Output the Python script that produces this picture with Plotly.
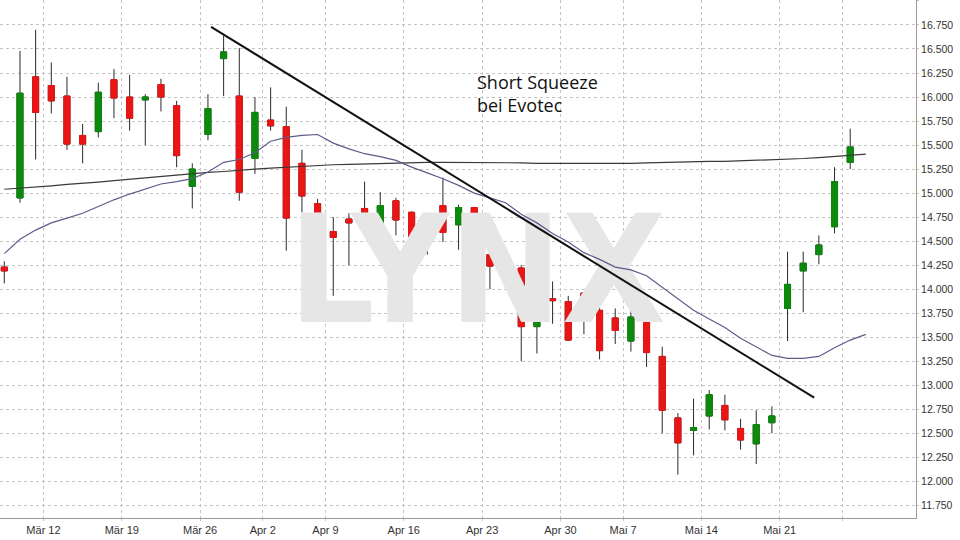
import plotly.graph_objects as go

# daily candles (trading-day index 0..54)
opens = [14.23, 14.95, 16.21, 16.12, 16.01, 15.60, 15.64, 16.18, 16.00, 15.97,
         16.13, 15.91, 15.07, 15.61, 16.40, 16.01, 15.36, 15.76, 15.69, 15.31,
         14.89, 14.60, 14.73, 14.84, 14.59, 14.92, 14.80, 14.52, 14.87, 14.67,
         14.85, 14.36, 14.235, 14.22, 13.61, 13.90, 13.87, 13.96, 13.78, 13.70,
         13.46, 13.83, 13.30, 12.66, 12.53, 12.68, 12.79, 12.55, 12.39, 12.61,
         13.80, 14.19, 14.36, 14.65, 15.32]
highs = [14.29, 16.48, 16.70, 16.36, 16.21, 15.72, 16.15, 16.29, 16.23, 16.03,
         16.19, 15.96, 15.31, 16.03, 16.64, 16.51, 16.00, 16.10, 15.90, 15.45,
         14.94, 14.75, 14.79, 15.12, 15.01, 14.95, 14.81, 14.69, 15.16, 14.88,
         14.85, 14.49, 14.40, 14.25, 13.85, 14.08, 13.93, 13.96, 13.82, 13.80,
         13.78, 13.94, 13.40, 12.71, 12.86, 12.95, 12.90, 12.65, 12.74, 12.78,
         14.39, 14.39, 14.56, 15.27, 15.67]
lows = [14.06, 14.90, 15.35, 15.83, 15.45, 15.31, 15.58, 15.78, 15.65, 15.50,
        15.85, 15.27, 14.84, 15.55, 16.01, 14.92, 15.20, 15.65, 14.40, 14.80,
        14.25, 13.93, 14.25, 14.57, 14.54, 14.56, 14.45, 14.36, 14.49, 14.41,
        14.38, 14.00, 14.03, 13.25, 13.33, 13.64, 13.46, 13.53, 13.27, 13.43,
        13.35, 13.19, 12.50, 12.07, 12.27, 12.54, 12.53, 12.33, 12.18, 12.50,
        13.46, 13.76, 14.26, 14.58, 15.25]
closes = [14.19, 16.04, 15.84, 15.96, 15.51, 15.51, 16.05, 15.99, 15.78, 16.00,
          16.00, 15.39, 15.25, 15.88, 16.47, 15.01, 15.84, 15.70, 14.74, 14.97,
          14.34, 14.54, 14.69, 14.68, 14.87, 14.72, 14.51, 14.58, 14.59, 14.85,
          14.49, 14.24, 14.255, 13.61, 13.84, 13.88, 13.47, 13.76, 13.36, 13.57,
          13.71, 13.34, 12.74, 12.40, 12.56, 12.90, 12.64, 12.43, 12.59, 12.68,
          14.05, 14.27, 14.46, 15.12, 15.48]

# moving averages (index 0..55)
ma_short = [14.37, 14.52, 14.615, 14.69, 14.74, 14.79, 14.86, 14.93, 14.99, 15.04,
            15.095, 15.12, 15.15, 15.22, 15.32, 15.35, 15.42, 15.54, 15.58, 15.60,
            15.61, 15.52, 15.46, 15.41, 15.38, 15.34, 15.27, 15.21, 15.15, 15.08,
            15.00, 14.95, 14.90, 14.78, 14.69, 14.58, 14.49, 14.38, 14.31, 14.23,
            14.20, 14.14, 14.02, 13.90, 13.78, 13.69, 13.60, 13.49, 13.40, 13.31,
            13.28, 13.28, 13.30, 13.39, 13.47, 13.53]
ma_long = [15.04, 15.05, 15.06, 15.075, 15.09, 15.10, 15.115, 15.13, 15.145, 15.16,
           15.175, 15.19, 15.20, 15.215, 15.225, 15.24, 15.25, 15.26, 15.27, 15.28,
           15.29, 15.295, 15.30, 15.305, 15.31, 15.31, 15.315, 15.32, 15.32, 15.32,
           15.32, 15.32, 15.32, 15.315, 15.31, 15.31, 15.305, 15.305, 15.305, 15.31,
           15.31, 15.315, 15.32, 15.32, 15.325, 15.33, 15.33, 15.335, 15.34, 15.345,
           15.35, 15.36, 15.37, 15.38, 15.395, 15.405]

# hand drawn trend line (start / end)
trend_x = [13.2, 51.7]
trend_y = [16.73, 12.87]

tick_pos = [2.5, 7.5, 12.5, 16.5, 20.5, 25.5, 30.5, 35.5, 39.5, 44.5, 49.5, 53.5]
tick_text = ["Mär 12", "Mär 19", "Mär 26", "Apr 2", "Apr 9", "Apr 16", "Apr 23",
             "Apr 30", "Mai 7", "Mai 14", "Mai 21", ""]

days = list(range(len(opens)))
ma_days = list(range(len(ma_short)))
body_hi = [max(o, c) for o, c in zip(opens, closes)]
body_lo = [min(o, c) for o, c in zip(opens, closes)]

GREEN = "#0b8a0b"
RED = "#ea1515"
WICK = "#2a2a2a"

fig = go.Figure()

# watermark, drawn first so it sits behind the candles
fig.add_trace(go.Scatter(
    x=[30.2], y=[14.05], mode="text", text=["LYNX"],
    textfont=dict(family="Liberation Sans Narrow, DejaVu Sans Condensed, Arial",
                  size=150, color="#e6e6e6", weight="bold"),
    hoverinfo="skip", showlegend=False,
))

fig.add_trace(go.Scatter(x=ma_days, y=ma_long, mode="lines",
                         line=dict(color="#3a3a3a", width=1.2),
                         showlegend=False, hoverinfo="skip"))
fig.add_trace(go.Scatter(x=ma_days, y=ma_short, mode="lines",
                         line=dict(color="#5c5c8a", width=1.2),
                         showlegend=False, hoverinfo="skip"))

# wicks
fig.add_trace(go.Candlestick(
    x=days, open=opens, high=highs, low=lows, close=closes,
    increasing=dict(line=dict(color=WICK, width=1), fillcolor=WICK),
    decreasing=dict(line=dict(color=WICK, width=1), fillcolor=WICK),
    whiskerwidth=0, showlegend=False, hoverinfo="skip",
))
# coloured bodies on top
fig.add_trace(go.Candlestick(
    x=days, open=opens, high=body_hi, low=body_lo, close=closes,
    increasing=dict(line=dict(color=GREEN, width=1), fillcolor=GREEN),
    decreasing=dict(line=dict(color=RED, width=1), fillcolor=RED),
    whiskerwidth=0, showlegend=False,
))

fig.add_trace(go.Scatter(x=trend_x, y=trend_y, mode="lines",
                         line=dict(color="#111111", width=2),
                         showlegend=False, hoverinfo="skip"))

fig.add_annotation(
    x=0.5186, y=0.869, xref="paper", yref="paper", xanchor="left", yanchor="top",
    text="Short Squeeze<br>bei Evotec", showarrow=False, align="left",
    font=dict(family="Open Sans, Noto Sans, sans-serif", size=18, color="#111111"),
)

fig.update_layout(
    width=960, height=540,
    margin=dict(l=0, r=44, t=0, b=22),
    paper_bgcolor="white", plot_bgcolor="white",
    font=dict(family="Liberation Sans, Arial", size=11, color="#333333"),
    showlegend=False,
    boxgap=0.45,
)
fig.update_xaxes(
    range=[-0.275, 58.2], tickmode="array", tickvals=tick_pos, ticktext=tick_text,
    showgrid=True, gridcolor="#c4c4c4", griddash="dot", gridwidth=1,
    showline=True, linecolor="#9a9a9a", mirror=True, zeroline=False,
    ticks="outside", ticklen=2, tickcolor="#c4c4c4",
    rangeslider=dict(visible=False),
)
fig.update_yaxes(
    side="right", range=[11.618, 17.01], dtick=0.25, tick0=11.75, tickformat=".3f",
    tickfont=dict(size=10.5),
    showgrid=True, gridcolor="#c4c4c4", griddash="dot", gridwidth=1,
    showline=True, linecolor="#9a9a9a", mirror=True, zeroline=False,
    ticks="outside", ticklen=2, tickcolor="#c4c4c4",
)

# the default page has an 8px body margin; drop it so the chart fills the window
fig.write_html("out.html", config={"displayModeBar": False},
               post_script="document.body.style.margin = '0';")
